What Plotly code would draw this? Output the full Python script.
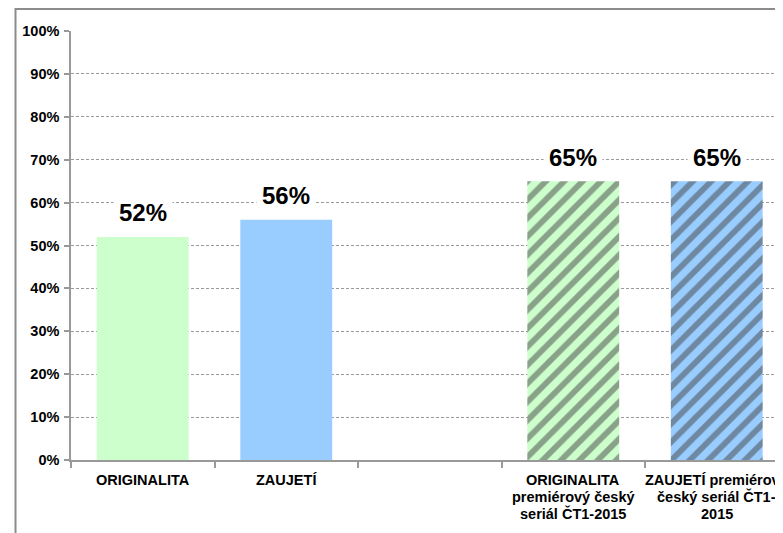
import plotly.graph_objects as go

categories = [
    "ORIGINALITA",
    "ZAUJETÍ",
    " ",
    "ORIGINALITA<br>premiérový český<br>seriál ČT1-2015",
    "ZAUJETÍ premiérový<br>český seriál ČT1-<br>2015",
]
values = [0.52, 0.56, None, 0.65, 0.65]
value_labels = ["52%", "56%", "", "65%", "65%"]
bar_colors = ["#ccffcc", "#99ccff", "#ffffff", "#ccffcc", "#99ccff"]
pattern_shapes = ["", "", "", "/", "/"]
pattern_fg = ["#ccffcc", "#99ccff", "#ffffff", "#4d6b4d", "#385573"]
y_ticks = [i / 10 for i in range(11)]

# page body has an 8px margin: figure coordinates are window minus 8
W, H = 783, 533
L, T = 63, 23
plot_bottom = 452
B = H - plot_bottom
plot_w = W - L
plot_h = plot_bottom - T
cat_w = 143.5
x_max = plot_w / cat_w - 0.5

FONT = "Arial, Liberation Sans, sans-serif"

fig = go.Figure(
    go.Bar(
        x=categories,
        y=values,
        width=0.64,
        marker=dict(
            color=bar_colors,
            line=dict(width=0),
            pattern=dict(shape=pattern_shapes, fgcolor=pattern_fg,
                         bgcolor=bar_colors, size=13, solidity=0.45,
                         fillmode="overlay"),
        ),
        hoverinfo="skip",
    )
)

# value labels
for c, v, t in zip(categories, values, value_labels):
    if v is None:
        continue
    fig.add_annotation(
        x=c, y=v, text=t, showarrow=False, yanchor="middle", yshift=24,
        font=dict(family=FONT, size=24, color="#000000", weight="bold"),
        bgcolor="#ffffff", borderpad=5,
    )

# category labels, one line each for tight line spacing
for c in categories:
    for i, line in enumerate(c.split("<br>")):
        if not line.strip():
            continue
        fig.add_annotation(
            x=c, xref="x", y=0, yref="paper", text=line, showarrow=False,
            yanchor="middle", xanchor="center", yshift=-(19.5 + 17 * i),
            font=dict(family=FONT, size=14.5, color="#000000", weight="bold"),
        )

# outer chart border (extends past the visible window on right and bottom)
fig.add_shape(
    type="rect", xref="paper", yref="paper",
    x0=(7.5 - L) / plot_w, x1=1.5,
    y0=-1.0, y1=1 + (T - 1) / plot_h,
    line=dict(color="#8c8c8c", width=2), fillcolor="rgba(0,0,0,0)", layer="above",
)

fig.update_layout(
    width=W, height=H,
    margin=dict(l=L, r=0, t=T, b=B, pad=0),
    paper_bgcolor="#ffffff", plot_bgcolor="#ffffff",
    showlegend=False,
    font=dict(family=FONT, color="#000000"),
    xaxis=dict(
        type="category", range=[-0.5, x_max],
        showline=True, linecolor="#999999", linewidth=1.5,
        ticks="outside", tickson="boundaries", ticklen=6, tickcolor="#999999", tickwidth=1.5,
        showgrid=False, showticklabels=False,
        fixedrange=True,
    ),
    yaxis=dict(
        range=[0, 1], tickvals=y_ticks, tickformat=".0%",
        showline=True, linecolor="#999999", linewidth=1.5,
        ticks="outside", ticklen=5, tickcolor="#999999", tickwidth=1.5,
        showgrid=True, gridcolor="#9a9a9a", gridwidth=1, griddash="3px,2px",
        zeroline=False,
        tickfont=dict(family=FONT, size=14.5, color="#000000", weight="bold"),
        ticklabelstandoff=2,
        fixedrange=True,
    ),
)

fig.write_html("out.html")
